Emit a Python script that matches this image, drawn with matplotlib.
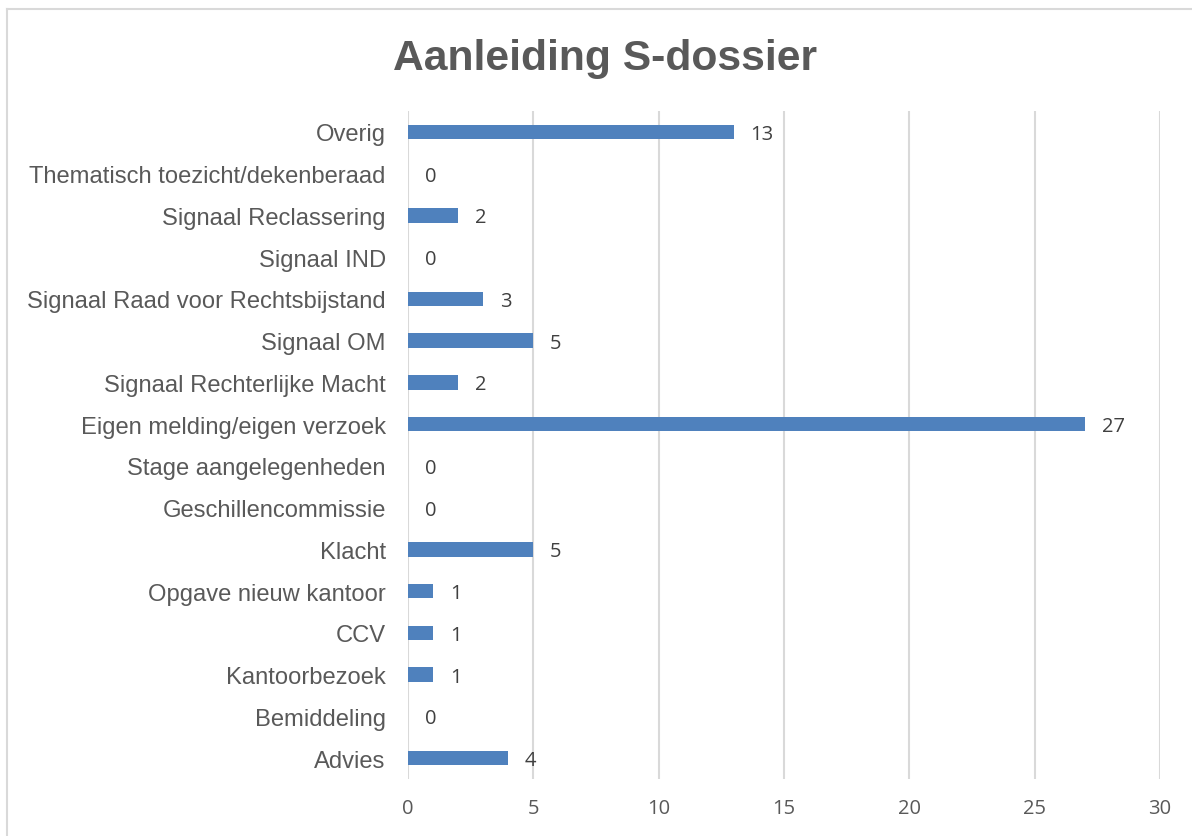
import matplotlib
matplotlib.use('Agg')
import matplotlib.pyplot as plt
from matplotlib.lines import Line2D

# data, bottom to top as in the chart
categories = ['Advies', 'Bemiddeling', 'Kantoorbezoek', 'CCV', 'Opgave nieuw kantoor',
              'Klacht', 'Geschillencommissie', 'Stage aangelegenheden',
              'Eigen melding/eigen verzoek', 'Signaal Rechterlijke Macht', 'Signaal OM',
              'Signaal Raad voor Rechtsbijstand', 'Signaal IND', 'Signaal Reclassering',
              'Thematisch toezicht/dekenberaad', 'Overig']
counts = [4, 0, 1, 1, 1, 5, 0, 0, 27, 2, 5, 3, 0, 2, 0, 13]
x_ticks = [0, 5, 10, 15, 20, 25, 30]

txt_color = '#595959'

fig = plt.figure(figsize=(11.92, 8.37), dpi=100)
ax = fig.add_axes([0.3423, 0.0681, 0.6309, 0.7981])

ypos = list(range(len(categories)))
ax.barh(ypos, counts, height=0.35, color='#4f81bd', edgecolor='none', zorder=3)

for y, v in zip(ypos, counts):
    ax.annotate(str(v), (v, y), xytext=(12, -1.5), textcoords='offset points',
                ha='left', va='center', fontsize=14.5, color='#404040', family='Open Sans')

ax.set_xlim(0, 30)
ax.set_ylim(-0.5, len(categories) - 0.5)
ax.set_xticks(x_ticks)
ax.set_xticklabels([str(t) for t in x_ticks], family='Open Sans', fontsize=14.5, color=txt_color)
ax.set_yticks(ypos)
ax.set_yticklabels(categories, family='Liberation Sans', fontsize=17.1, color=txt_color)
ax.tick_params(axis='both', length=0)
ax.tick_params(axis='y', pad=16)
ax.tick_params(axis='x', pad=14)
ax.grid(axis='x', color='#d9d9d9', linewidth=1.5, zorder=0)
for s in ax.spines.values():
    s.set_visible(False)

fig.text(0.508, 0.93, 'Aanleiding S-dossier', ha='center', va='center',
         fontsize=30.7, fontweight='bold', color=txt_color, family='Liberation Sans')

# chart frame (only top and left edges visible in the crop)
fig.add_artist(Line2D([7/1192, 7/1192], [0, 1 - 10/837], color='#d9d9d9', linewidth=1.5))
fig.add_artist(Line2D([7/1192, 1], [1 - 10/837, 1 - 10/837], color='#d9d9d9', linewidth=1.5))

fig.savefig('out.png', dpi=100)
